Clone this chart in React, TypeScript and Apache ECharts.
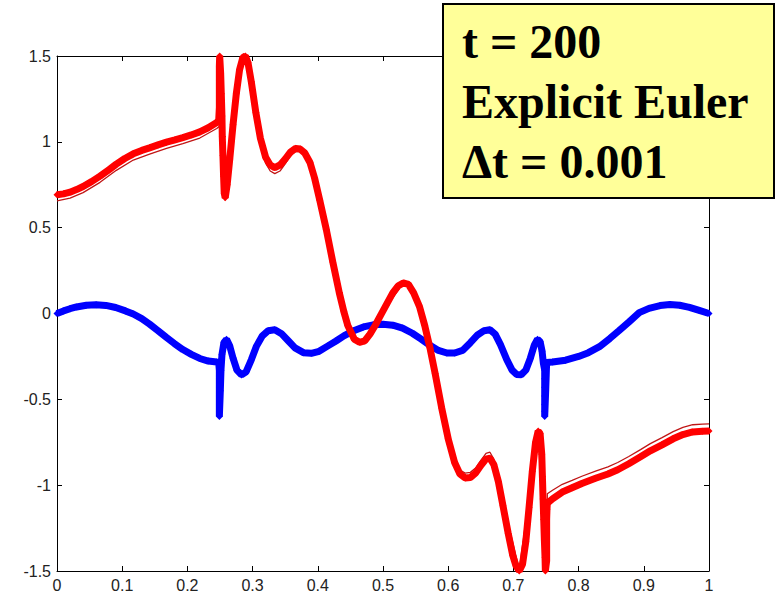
import React, { useEffect, useRef } from "react";
import * as echarts from "echarts";

// Thick red solution (markers), x positions and values
const redX = [
  0.0, 0.01, 0.02, 0.03, 0.04, 0.053, 0.066, 0.08, 0.091, 0.104, 0.117, 0.13, 0.142, 0.155, 0.168, 0.181,
  0.193, 0.206, 0.219, 0.232, 0.245, 0.248,
  0.249, 0.249, 0.249, 0.249, 0.2495,
  0.251, 0.252, 0.253, 0.2535, 0.2545, 0.2555, 0.2565, 0.258,
  0.261, 0.265, 0.27, 0.275, 0.28, 0.285, 0.289, 0.293, 0.298, 0.305, 0.312, 0.32, 0.327, 0.334, 0.342,
  0.35, 0.358, 0.366, 0.373, 0.38, 0.388, 0.395, 0.403, 0.413, 0.423, 0.433, 0.44, 0.446, 0.456, 0.464,
  0.472, 0.48, 0.488, 0.495, 0.505, 0.515, 0.523, 0.531, 0.539, 0.547, 0.556, 0.564, 0.572, 0.58, 0.59,
  0.6, 0.61, 0.618, 0.626, 0.634, 0.642, 0.65, 0.658, 0.664, 0.67, 0.677, 0.684, 0.692, 0.699, 0.704,
  0.709, 0.714, 0.719, 0.724, 0.729, 0.734, 0.738, 0.741,
  0.7435, 0.7445, 0.7455, 0.7465, 0.7475, 0.7485, 0.749,
  0.751, 0.751, 0.751, 0.751, 0.7515, 0.752,
  0.76, 0.775, 0.79, 0.805, 0.826, 0.845, 0.86, 0.877, 0.895, 0.91, 0.928, 0.945, 0.96, 0.975, 0.99, 1.0,
];
const redY = [
  0.692, 0.697, 0.707, 0.722, 0.74, 0.768, 0.8, 0.838, 0.87, 0.903, 0.93, 0.95, 0.965, 0.982, 0.998, 1.012,
  1.025, 1.04, 1.058, 1.082, 1.112, 1.125,
  1.2, 1.28, 1.36, 1.44, 1.5,
  1.4, 1.28, 1.15, 1.03, 0.92, 0.8, 0.7, 0.675,
  0.75, 0.9, 1.1, 1.28, 1.42, 1.49, 1.5, 1.46, 1.35, 1.17, 1.02, 0.91, 0.865, 0.85, 0.865,
  0.9, 0.94, 0.962, 0.958, 0.935, 0.88, 0.79, 0.66, 0.49, 0.3, 0.12, 0.01, -0.07, -0.15, -0.168,
  -0.16, -0.12, -0.07, -0.02, 0.05, 0.12, 0.16, 0.178, 0.17, 0.12, 0.04, -0.07, -0.2, -0.35, -0.55,
  -0.73, -0.87, -0.935, -0.958, -0.955, -0.93, -0.885, -0.848, -0.843, -0.88, -0.98, -1.12, -1.28, -1.41, -1.47,
  -1.5, -1.46, -1.33, -1.13, -0.92, -0.75, -0.685, -0.7,
  -0.82, -0.95, -1.08, -1.2, -1.32, -1.42, -1.5,
  -1.44, -1.36, -1.28, -1.2, -1.14, -1.105,
  -1.08, -1.04, -1.015, -0.99, -0.96, -0.935, -0.91, -0.875, -0.835, -0.8, -0.765, -0.73, -0.705, -0.69, -0.686, -0.685,
];

// Thin red reference curve
const thinX = [
  0.0, 0.02, 0.04, 0.066, 0.091, 0.117, 0.142, 0.168, 0.193, 0.219, 0.245, 0.249,
  0.2495, 0.2505, 0.256, 0.258, 0.265, 0.275, 0.285, 0.289, 0.298, 0.312, 0.32, 0.327, 0.334, 0.342,
  0.35, 0.358, 0.366, 0.373, 0.38, 0.395, 0.413, 0.433, 0.456, 0.47, 0.495, 0.531, 0.547, 0.572, 0.6,
  0.618, 0.626, 0.634, 0.642, 0.65, 0.658, 0.664, 0.67, 0.677, 0.684, 0.709, 0.738, 0.749, 0.751, 0.752,
  0.76, 0.775, 0.79, 0.805, 0.826, 0.845, 0.86, 0.877, 0.895, 0.91, 0.928, 0.945, 0.96, 0.975, 0.99, 1.0,
];
const thinY = [
  0.656, 0.672, 0.704, 0.764, 0.834, 0.894, 0.928, 0.962, 0.99, 1.022, 1.078, 1.09,
  1.5, 1.5, 0.68, 0.66, 0.88, 1.26, 1.47, 1.49, 1.33, 0.99, 0.875, 0.83, 0.815, 0.83,
  0.872, 0.918, 0.945, 0.942, 0.918, 0.78, 0.49, 0.12, -0.15, -0.16, -0.02, 0.178, 0.12, -0.2, -0.73,
  -0.912, -0.93, -0.925, -0.9, -0.855, -0.815, -0.808, -0.848, -0.955, -1.1, -1.49, -0.68, -1.5, -1.5, -1.05,
  -1.03, -0.995, -0.972, -0.948, -0.918, -0.893, -0.868, -0.833, -0.793, -0.758, -0.723, -0.688, -0.663, -0.648, -0.644, -0.643,
];

// Blue solution (markers)
const blueX = [
  0.0, 0.01, 0.02, 0.03, 0.045, 0.06, 0.075, 0.09, 0.105, 0.117, 0.13, 0.142, 0.155, 0.168, 0.18, 0.193,
  0.206, 0.219, 0.232, 0.245, 0.248,
  0.249, 0.249, 0.249, 0.249, 0.249, 0.249, 0.249,
  0.2505, 0.2515, 0.253, 0.256, 0.26, 0.265, 0.27, 0.276, 0.283, 0.29, 0.298, 0.306, 0.315, 0.324, 0.334,
  0.345, 0.355, 0.365, 0.378, 0.39, 0.402, 0.415, 0.428, 0.44, 0.455, 0.47, 0.485, 0.5, 0.515, 0.53,
  0.545, 0.558, 0.572, 0.585, 0.598, 0.61, 0.622, 0.634, 0.645, 0.655, 0.664, 0.672, 0.68, 0.69, 0.698,
  0.705, 0.712, 0.719, 0.726, 0.732, 0.737, 0.741, 0.744, 0.746,
  0.748, 0.748, 0.748, 0.748, 0.748, 0.748, 0.748,
  0.7495, 0.751, 0.76, 0.78, 0.8, 0.815, 0.832, 0.848, 0.862, 0.877, 0.893, 0.908, 0.925, 0.94, 0.955,
  0.97, 0.985, 1.0,
];
const blueY = [
  0.0, 0.015, 0.028, 0.038, 0.048, 0.051, 0.047, 0.035, 0.015, -0.003, -0.03, -0.062, -0.1, -0.14, -0.175, -0.21,
  -0.238, -0.262, -0.277, -0.283, -0.285,
  -0.33, -0.38, -0.43, -0.48, -0.53, -0.57, -0.6,
  -0.45, -0.33, -0.24, -0.17, -0.15, -0.19, -0.26, -0.33, -0.358, -0.34, -0.27, -0.19, -0.13, -0.1, -0.095,
  -0.12, -0.16, -0.2, -0.228, -0.232, -0.22, -0.19, -0.16, -0.13, -0.1, -0.078, -0.066, -0.063, -0.068, -0.085,
  -0.115, -0.148, -0.185, -0.215, -0.23, -0.23, -0.215, -0.17, -0.125, -0.1, -0.095, -0.12, -0.18, -0.27, -0.33,
  -0.355, -0.357, -0.33, -0.26, -0.185, -0.15, -0.165, -0.22, -0.29,
  -0.33, -0.38, -0.43, -0.48, -0.53, -0.57, -0.6,
  -0.45, -0.285, -0.283, -0.272, -0.25, -0.228, -0.193, -0.145, -0.1, -0.05, 0.005, 0.03, 0.046, 0.052, 0.048,
  0.036, 0.018, 0.0,
];

const xTicks = [0, 0.1, 0.2, 0.3, 0.4, 0.5, 0.6, 0.7, 0.8, 0.9, 1];
const yTicks = [-1.5, -1, -0.5, 0, 0.5, 1, 1.5];
const boxLines = ["t = 200", "Explicit Euler", "\u0394t = 0.001"];

const zip = (xs: number[], ys: number[]) => xs.map((x, i) => [x, ys[i]]);

const labelFont = {
  color: "#222",
  fontSize: 16,
  fontFamily: "'Liberation Sans', Arial, sans-serif",
};

const fmt = (ticks: number[]) => (v: number) => {
  const t = ticks.find((k) => Math.abs(k - v) < 1e-9);
  return t === undefined ? "" : String(t);
};

export default function App() {
  const ref = useRef<HTMLDivElement>(null);

  useEffect(() => {
    document.body.style.margin = "0";
    if (!ref.current) return;
    const chart = echarts.init(ref.current, undefined, { renderer: "svg" });

    const axisLine = { show: true, onZero: false, lineStyle: { color: "#000", width: 1 } };
    const tick = { show: true, inside: true, length: 5, lineStyle: { color: "#000", width: 1 } };

    chart.setOption({
      animation: false,
      backgroundColor: "#fff",
      grid: { left: 57, right: 70, top: 56, bottom: 27, containLabel: false },
      xAxis: [
        {
          type: "value", min: 0, max: 1, interval: 0.1, position: "bottom",
          axisLine, axisTick: tick, splitLine: { show: false },
          axisLabel: { ...labelFont, margin: 6, formatter: fmt(xTicks) },
        },
        {
          type: "value", min: 0, max: 1, interval: 0.1, position: "top",
          axisLine, axisTick: tick, splitLine: { show: false }, axisLabel: { show: false },
        },
      ],
      yAxis: [
        {
          type: "value", min: -1.5, max: 1.5, interval: 0.5, position: "left",
          axisLine, axisTick: tick, splitLine: { show: false },
          axisLabel: { ...labelFont, margin: 6, formatter: fmt(yTicks) },
        },
        {
          type: "value", min: -1.5, max: 1.5, interval: 0.5, position: "right",
          axisLine, axisTick: tick, splitLine: { show: false }, axisLabel: { show: false },
        },
      ],
      series: [
        {
          type: "line", name: "blue", data: zip(blueX, blueY), xAxisIndex: 0, yAxisIndex: 0,
          symbol: "diamond", symbolSize: 7, showSymbol: true, showAllSymbol: true,
          lineStyle: { color: "#0000ff", width: 7 }, itemStyle: { color: "#0000ff", borderWidth: 0 },
          z: 2, clip: true,
        },
        {
          type: "line", name: "thin", data: zip(thinX, thinY), xAxisIndex: 0, yAxisIndex: 0,
          symbol: "none", lineStyle: { color: "#c01515", width: 1.3 }, z: 3, clip: true,
        },
        {
          type: "line", name: "red", data: zip(redX, redY), xAxisIndex: 0, yAxisIndex: 0,
          symbol: "diamond", symbolSize: 7, showSymbol: true, showAllSymbol: true,
          lineStyle: { color: "#ff0000", width: 7 }, itemStyle: { color: "#ff0000", borderWidth: 0 },
          z: 4, clip: true,
        },
      ],
      graphic: [
        {
          type: "group", z: 100,
          children: [
            {
              type: "rect", z: 100,
              shape: { x: 443, y: 4, width: 331, height: 194 },
              style: { fill: "#ffff99", stroke: "#000", lineWidth: 2 },
            },
            ...boxLines.map((t, i) => ({
              type: "text", z: 101, x: 462, y: 41 + i * 60,
              style: {
                text: t, fill: "#000", fontSize: 48, fontWeight: "bold",
                fontFamily: "'Liberation Serif', 'Times New Roman', serif",
                verticalAlign: "middle", align: "left",
              },
            })),
          ],
        },
      ],
    });

    return () => chart.dispose();
  }, []);

  return <div ref={ref} style={{ width: 779, height: 598 }} />;
}
